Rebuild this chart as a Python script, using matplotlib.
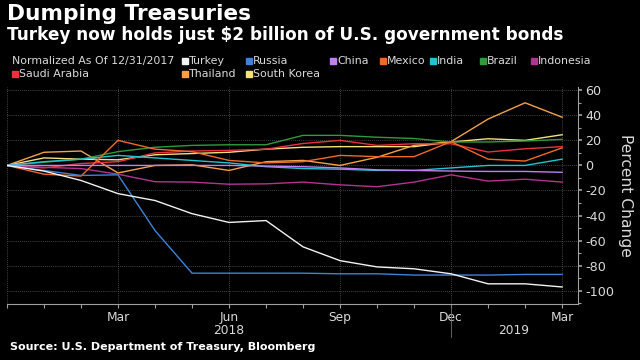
import numpy as np
import matplotlib
matplotlib.use('Agg')
import matplotlib.pyplot as plt
from matplotlib.lines import Line2D
import matplotlib.transforms as mtransforms

# month index: 0 = 12/31/2017 ... 15 = Mar 2019
months = np.arange(16)
tick_months = [3, 6, 9, 12, 15]
tick_labels = ['Mar', 'Jun', 'Sep', 'Dec', 'Mar']
y_ticks = [60, 40, 20, 0, -20, -40, -60, -80, -100]

turkey = [0, -4.5, -12, -22.5, -28, -38.5, -45.5, -44, -65, -76, -81, -82.5, -86.5, -94.5, -94.5, -97]
russia = [0, -4, -8, -7.5, -52, -86, -86, -86, -86, -86.5, -86.5, -87.5, -87.5, -87.5, -87, -87]
china = [0, 0, 0, 0, 0, 0, 0, -0.5, -1, -2, -3.5, -4, -4.5, -4.8, -4.8, -5.5]
mexico = [0, -7, -8.5, 20, 13, 11, 4, 2, 3, 8, 7, 7, 19, 5, 3.5, 14]
india = [0, 3, 5, 8, 6, 4, 2, -1, -2.5, -3, -4, -4, -2, 0, 0, 5]
brazil = [0, 2.5, 5, 11, 14.5, 16, 16.5, 16.5, 24, 24, 22.5, 21.5, 18.7, 18.7, 19.5, 20.8]
indonesia = [0, -1.5, -2.5, -7, -13, -13.3, -15, -14.7, -13.3, -15.5, -17, -13.3, -7.5, -12.5, -11, -13.3]
saudi = [0, -2, 1.5, 3, 10, 11.5, 12, 13, 17.5, 20, 16, 17.3, 17.3, 10.7, 13.3, 15]
thailand = [0, 10.5, 11.5, -6, 0, 0.5, -4, 3, 4, 0, 6.5, 16, 19, 37, 50, 38.5]
south_korea = [0, 6, 5, 4.5, 8.5, 9.5, 10.5, 13, 14.5, 15, 15, 15, 18.7, 21.3, 20, 24.5]

series = [
    ('Turkey', turkey, '#f2f2f2'),
    ('Russia', russia, '#3f82d6'),
    ('China', china, '#c27ff0'),
    ('Mexico', mexico, '#f0692a'),
    ('India', india, '#22c4cf'),
    ('Brazil', brazil, '#2f9b3c'),
    ('Indonesia', indonesia, '#b3338f'),
    ('Saudi Arabia', saudi, '#e9323e'),
    ('Thailand', thailand, '#f3a247'),
    ('South Korea', south_korea, '#f6df7e'),
]

TEXT = '#d9d9d9'
GRID = '#5a5a5a'

fig = plt.figure(figsize=(6.4, 3.6), dpi=100, facecolor='black')
ax = fig.add_axes([7 / 640, 1 - 304 / 360, 571 / 640, 217 / 360], facecolor='black')

# draw bottom-layer lines first so Turkey/Russia stay visible
for name, vals, color in series[::-1]:
    ax.plot(months, vals, color=color, lw=1.0, solid_joinstyle='miter')

ax.set_xlim(0, 15.43)
ax.set_ylim(-110.6, 62.6)

# x axis
ax.set_xticks(tick_months)
ax.set_xticklabels(tick_labels)
ax.set_xticks(months, minor=True)
ax.tick_params(axis='x', which='both', direction='out', length=3, width=0.8,
               colors='#a0a0a0', labelcolor=TEXT, labelsize=8.8, pad=2)

# y axis on the right
ax.yaxis.tick_right()
ax.set_yticks(y_ticks)
ax.set_yticklabels([str(v) for v in y_ticks])
ax.set_yticks(np.arange(-110, 61, 10), minor=True)
ax.tick_params(axis='y', which='major', direction='out', length=3, width=1.2,
               colors='#a0a0a0', labelcolor=TEXT, labelsize=9.2, pad=2)
ax.tick_params(axis='y', which='minor', direction='out', length=2, width=0.8, colors='#a0a0a0')

for s in ['top', 'left']:
    ax.spines[s].set_visible(False)
for s in ['bottom', 'right']:
    ax.spines[s].set_color('#a0a0a0')
    ax.spines[s].set_linewidth(0.8)

# dotted grid
for v in y_ticks:
    ax.axhline(v, color=GRID, lw=0.6, ls=(0, (1, 1.5)), zorder=0)
for m in [0] + tick_months:
    ax.axvline(m, color=GRID, lw=0.6, ls=(0, (1, 1.5)), zorder=0)

# year labels + separator
trans = mtransforms.blended_transform_factory(ax.transData, ax.transAxes)
ax.text(6, -0.12, '2018', transform=trans, ha='center', va='center', color=TEXT, fontsize=8.8)
ax.text(13.68, -0.12, '2019', transform=trans, ha='center', va='center', color=TEXT, fontsize=8.8)
ax.add_line(Line2D([12, 12], [-0.005, -0.152], transform=trans, color='#707070', lw=0.6, clip_on=False))

fig.text(625 / 640, 1 - 195 / 360, 'Percent Change', rotation=270, ha='center', va='center',
         color=TEXT, fontsize=11.2)

# titles
fig.text(7 / 640, 1 - 14 / 360, 'Dumping Treasuries', color='white', fontsize=15.6,
         fontweight='bold', ha='left', va='center')
fig.text(7 / 640, 1 - 35 / 360, 'Turkey now holds just $2 billion of U.S. government bonds',
         color='white', fontsize=12.2, fontweight='bold', ha='left', va='center')

# legend
fig.text(12 / 640, 1 - 61 / 360, 'Normalized As Of 12/31/2017', color=TEXT, fontsize=7.9,
         ha='left', va='center')
legend_pos = [(182, 61), (246, 61), (330, 61), (380, 61), (430, 61), (480, 61), (531, 61),
              (12, 74), (182, 74), (246, 74)]
for (name, vals, color), (px, py) in zip(series, legend_pos):
    fig.add_artist(Line2D([(px + 3) / 640], [1 - py / 360], marker='s', markersize=4.3,
                          color=color, lw=0, transform=fig.transFigure))
    fig.text((px + 7) / 640, 1 - py / 360, name, color=TEXT, fontsize=7.9, ha='left', va='center')

fig.text(10 / 640, 1 - 347 / 360, 'Source: U.S. Department of Treasury, Bloomberg', color='white',
         fontsize=8, fontweight='bold', ha='left', va='center')

fig.savefig('out.png', dpi=100, facecolor='black')
